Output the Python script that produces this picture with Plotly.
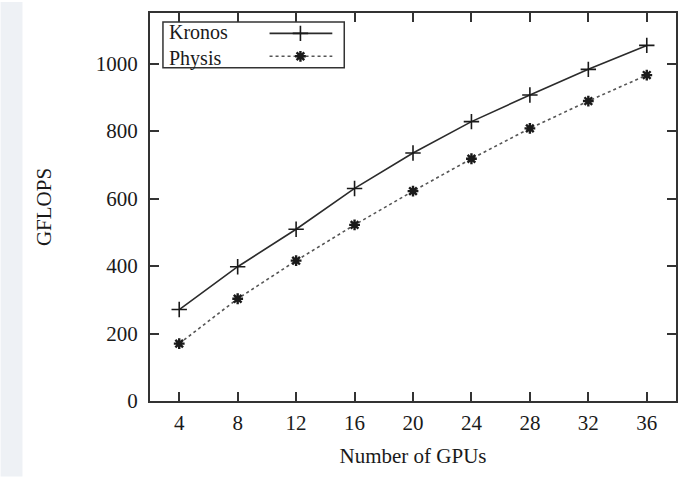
import plotly.graph_objects as go

gpus = [4, 8, 12, 16, 20, 24, 28, 32, 36]
kronos = [271, 398, 509, 630, 735, 828, 907, 983, 1054]
physis = [170, 303, 416, 522, 622, 718, 808, 889, 966]
series_names = ["Kronos", "Physis"]
x_ticks = [4, 8, 12, 16, 20, 24, 28, 32, 36]
y_ticks = [0, 200, 400, 600, 800, 1000]

W, H = 689, 477
L, R, T, B = 150, 11, 11, 76
pw, ph = W - L - R, H - T - B

def px(xp):
    return (xp - L) / pw

def py(yp):
    return (H - B - yp) / ph

FONT = "Liberation Serif"
TXT = "#1a1a1a"
MK = "#1a1a1a"

styles = [
    dict(line=dict(color="#2b2b2b", width=1.6),
         marker=dict(symbol="cross-thin-open", size=11, color=MK, line=dict(color=MK, width=1.6))),
    dict(line=dict(color="#555555", width=1.6, dash="3px,3px"),
         marker=dict(symbol="asterisk-open", size=9, color=MK, line=dict(color=MK, width=2.4))),
]

fig = go.Figure()
for name, vals, st in zip(series_names, [kronos, physis], styles):
    fig.add_trace(go.Scatter(x=gpus, y=vals, mode="lines+markers", name=name,
                             line=st["line"], marker=st["marker"], showlegend=False))

# custom legend (text left, sample right, like gnuplot)
lx0, lx1, lm = px(270), px(333), px(301)
for i, yy in enumerate([31.5, 54.5]):
    st = styles[i]
    fig.add_trace(go.Scatter(
        x=[lx0, lx1], y=[py(yy)] * 2, xaxis="x2", yaxis="y2",
        mode="lines", line=st["line"], showlegend=False, hoverinfo="skip"))
    fig.add_trace(go.Scatter(
        x=[lm], y=[py(yy)], xaxis="x2", yaxis="y2",
        mode="markers", marker=st["marker"], showlegend=False, hoverinfo="skip"))

fig.add_annotation(x=px(168), y=py(43.5), xref="paper", yref="paper",
                   text="<br>".join(series_names), showarrow=False, align="left",
                   xanchor="left", yanchor="middle", borderpad=0,
                   font=dict(family=FONT, size=20, color=TXT))

fig.add_shape(type="rect", xref="paper", yref="paper",
              x0=px(163), x1=px(345), y0=py(66), y1=py(20),
              line=dict(color="#333333", width=1.5), fillcolor="rgba(0,0,0,0)")
fig.add_shape(type="rect", xref="paper", yref="paper", layer="below",
              x0=px(0), x1=px(22), y0=py(H), y1=py(0),
              line=dict(width=0), fillcolor="#eef1f5")

axis_common = dict(
    showline=True, linecolor="#333333", linewidth=2, mirror="allticks",
    ticks="inside", ticklen=9, tickwidth=1.5, tickcolor="#333333",
    showgrid=False, zeroline=False,
    tickfont=dict(family=FONT, size=21, color=TXT),
)

fig.update_layout(
    width=W, height=H,
    margin=dict(l=L, r=R, t=T, b=B),
    paper_bgcolor="white", plot_bgcolor="white",
    xaxis=dict(range=[2, 38], tickvals=x_ticks, ticklabelstandoff=2,
               title=dict(text="Number of GPUs", font=dict(family=FONT, size=21, color=TXT), standoff=14),
               **axis_common),
    yaxis=dict(range=[0, 1150], tickvals=y_ticks, ticklabelstandoff=6,
               title=dict(text="GFLOPS", font=dict(family=FONT, size=21, color=TXT), standoff=38),
               **axis_common),
    xaxis2=dict(range=[0, 1], overlaying="x", visible=False, fixedrange=True),
    yaxis2=dict(range=[0, 1], overlaying="y", visible=False, fixedrange=True),
    showlegend=False,
)

fig.write_html("out.html", config={"displayModeBar": False},
               post_script="document.body.style.margin='0';")
